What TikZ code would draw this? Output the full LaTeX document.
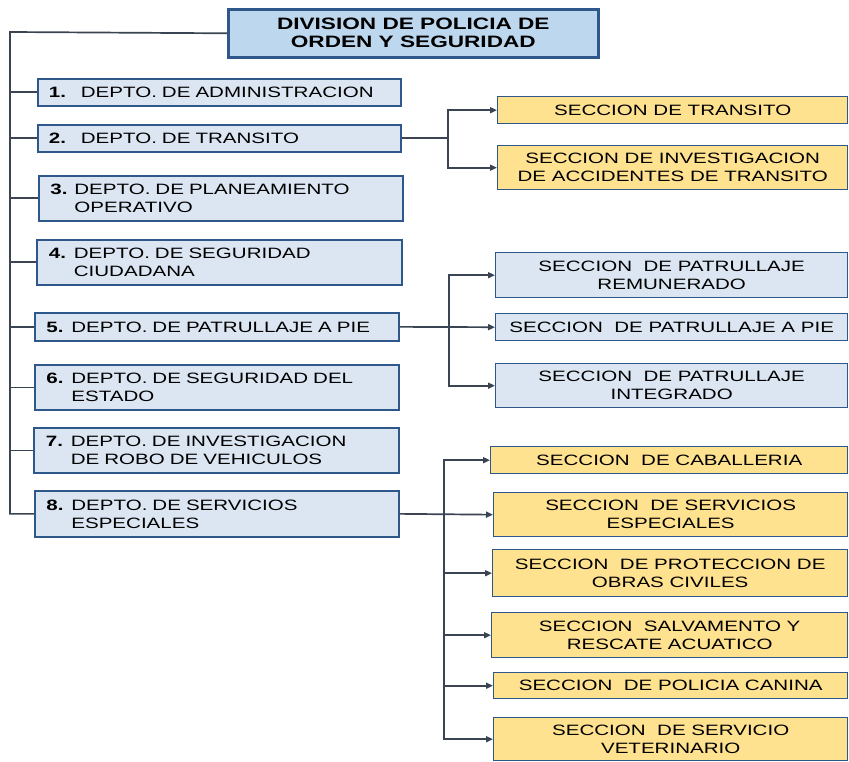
\documentclass[tikz,border=0pt]{standalone}
\usepackage{fontspec}
\setmainfont{Liberation Sans}[FakeStretch=1.37]
\usetikzlibrary{arrows.meta}
\definecolor{lfill}{RGB}{220,230,242}
\definecolor{lborder}{RGB}{46,88,138}
\definecolor{tfill}{RGB}{189,215,238}
\definecolor{yfill}{RGB}{255,226,143}
\definecolor{conncol}{RGB}{58,68,82}
\tikzset{
  topbox/.style={draw=lborder, line width=2.6pt, fill=tfill, anchor=north west, align=center,
    font=\fontsize{16.5}{18}\selectfont\bfseries, inner sep=0pt},
  deptbox/.style={draw=lborder, line width=1.7pt, fill=lfill, anchor=north west, align=left,
    inner xsep=11pt, inner ysep=0pt, text width=341pt, font=\fontsize{15}{18}\selectfont},
  secbox/.style={draw=lborder, line width=1.4pt, fill=lfill, anchor=north west, align=center,
    inner xsep=4pt, inner ysep=0pt, font=\fontsize{15}{18}\selectfont},
  ysecbox/.style={secbox, fill=yfill},
  conn/.style={draw=conncol, line width=1.7pt},
  arr/.style={conn, -{Triangle[length=7pt,width=6pt]}}
}
\newcommand{\numlab}[2]{\makebox[#2pt][l]{\textbf{#1}}}
\begin{document}
\begin{tikzpicture}[x=1pt,y=-1pt]
\useasboundingbox (0,0) rectangle (849,762);
% top
\node[topbox, minimum width=370pt, minimum height=48pt] (top) at (227,8)
  {DIVISION DE POLICIA DE\\ORDEN Y SEGURIDAD};
% departments
\node[deptbox, minimum width=363pt, minimum height=27pt] (d1) at (37,78) {\numlab{1.}{32}DEPTO. DE ADMINISTRACION};
\node[deptbox, minimum width=363pt, minimum height=27pt] (d2) at (37,124) {\numlab{2.}{32}DEPTO. DE TRANSITO};
\node[deptbox, minimum width=364pt, minimum height=45pt] (d3) at (38,175) {\numlab{3.}{24}DEPTO. DE PLANEAMIENTO\\\hspace*{24pt}OPERATIVO};
\node[deptbox, minimum width=365pt, minimum height=45pt] (d4) at (36,239) {\numlab{4.}{25}DEPTO. DE SEGURIDAD\\\hspace*{25pt}CIUDADANA};
\node[deptbox, minimum width=364pt, minimum height=28pt] (d5) at (34,312) {\numlab{5.}{25}DEPTO. DE PATRULLAJE A PIE};
\node[deptbox, minimum width=364pt, minimum height=45pt] (d6) at (34,364) {\numlab{6.}{25}DEPTO. DE SEGURIDAD DEL\\\hspace*{25pt}ESTADO};
\node[deptbox, minimum width=365pt, minimum height=45pt] (d7) at (33,427) {\numlab{7.}{25}DEPTO. DE INVESTIGACION\\\hspace*{25pt}DE ROBO DE VEHICULOS};
\node[deptbox, minimum width=364pt, minimum height=46pt] (d8) at (34,490) {\numlab{8.}{25}DEPTO. DE SERVICIOS\\\hspace*{25pt}ESPECIALES};
% sections transito
\node[ysecbox, minimum width=350pt, minimum height=27pt] (s1) at (497,96) {SECCION DE TRANSITO};
\node[ysecbox, minimum width=350pt, minimum height=44pt] (s2) at (497,145) {SECCION DE INVESTIGACION\\DE ACCIDENTES DE TRANSITO};
% sections patrullaje
\node[secbox, minimum width=352pt, minimum height=45pt] (p1) at (495,252) {SECCION\ \ DE PATRULLAJE\\REMUNERADO};
\node[secbox, minimum width=352pt, minimum height=27pt] (p2) at (495,313) {SECCION\ \ DE PATRULLAJE A PIE};
\node[secbox, minimum width=352pt, minimum height=44pt] (p3) at (495,363) {SECCION\ \ DE PATRULLAJE\\INTEGRADO};
% sections servicios
\node[ysecbox, minimum width=357pt, minimum height=27pt] (e1) at (490,446) {SECCION\ \ DE CABALLERIA};
\node[ysecbox, minimum width=354pt, minimum height=44pt] (e2) at (493,492) {SECCION\ \ DE SERVICIOS\\ESPECIALES};
\node[ysecbox, minimum width=355pt, minimum height=47pt] (e3) at (492,549) {SECCION\ \ DE PROTECCION DE\\OBRAS CIVILES};
\node[ysecbox, minimum width=356pt, minimum height=45pt] (e4) at (491,612) {SECCION\ \ SALVAMENTO Y\\RESCATE ACUATICO};
\node[ysecbox, minimum width=354pt, minimum height=26pt] (e5) at (493,672) {SECCION\ \ DE POLICIA CANINA};
\node[ysecbox, minimum width=354pt, minimum height=43pt] (e6) at (493,717) {SECCION\ \ DE SERVICIO\\VETERINARIO};
% left spine
\coordinate (sp) at (10,32);
\draw[conn] (top.west) -- (sp) |- (d8.west);
\foreach \n in {d1,d2,d3,d4,d5,d6,d7}{\draw[conn] (sp |- \n.west) -- (\n.west);}
% transito
\coordinate (ts) at (448,0);
\draw[conn] (d2.east) -- (ts |- d2.east);
\draw[arr] (ts |- d2.east) |- (s1.west);
\draw[arr] (ts |- d2.east) |- (s2.west);
% patrullaje
\coordinate (ps) at (449,0);
\draw[arr] (d5.east) -- (p2.west);
\draw[arr] (ps |- d5.east) |- (p1.west);
\draw[arr] (ps |- d5.east) |- (p3.west);
% servicios
\coordinate (es) at (444,0);
\draw[arr] (d8.east) -- (e2.west);
\foreach \n in {e1,e3,e4,e5,e6}{\draw[arr] (es |- d8.east) |- (\n.west);}
\end{tikzpicture}
\end{document}
